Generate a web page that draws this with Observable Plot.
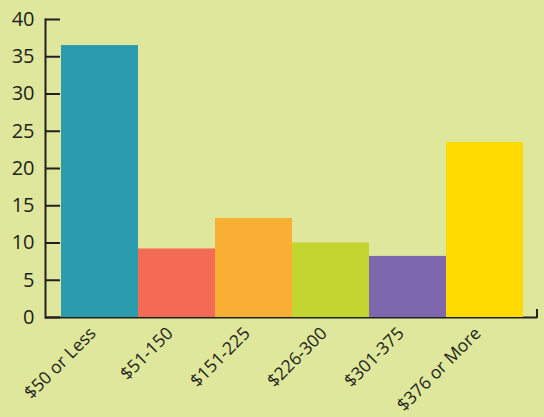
<!DOCTYPE html>
<html><head>
<meta charset="utf-8">
<script src="https://cdn.jsdelivr.net/npm/d3@7"></script>
<script src="https://cdn.jsdelivr.net/npm/@observablehq/plot@0.6"></script>
<style>
html,body{margin:0;padding:0;background:#dee79b;}
</style>
</head><body><div id="chart"></div>
<script>
const categories = ["$50 or Less","$51-150","$151-225","$226-300","$301-375","$376 or More"];
const values = [36.5, 9.2, 13.3, 10.0, 8.2, 23.5];
const colors = ["#2b9cae","#f36b54","#fbae34","#c2d62f","#7d68ae","#ffdb00"];
const yTicks = [0,5,10,15,20,25,30,35,40];
const data = categories.map((c,i)=>({category:c, value:values[i]}));

const ink = "#231f20";
const chart = Plot.plot({
  width:544, height:417,
  marginTop:19, marginBottom:100, marginLeft:45, marginRight:7,
  style:{background:"#dee79b", fontFamily:"'Open Sans', sans-serif", fontSize:"20px", color:ink},
  x:{domain:categories, padding:0, insetLeft:15, insetRight:14, label:null},
  y:{domain:[0,40], label:null},
  color:{domain:categories, range:colors},
  marks:[
    Plot.ruleY([0],{stroke:ink, strokeWidth:2}),
    Plot.barY(data,{x:"category", y:"value", fill:"category"}),
    Plot.axisY({ticks:yTicks, tickSize:-15, tickPadding:26, label:null, strokeWidth:2}),
    Plot.axisX({tickSize:0, tickRotate:-45, tickPadding:13, dx:-7, fontSize:17.5, label:null}),
    Plot.frame({anchor:"left", stroke:ink, strokeWidth:2}),
    (index, scales, values, dim) => {
      const x = dim.width - dim.marginRight;
      const y0 = scales.y(0);
      const l = d3.create("svg:line")
        .attr("x1", x).attr("x2", x)
        .attr("y1", y0 + 1).attr("y2", y0 - 8)
        .attr("stroke", ink).attr("stroke-width", 2);
      return l.node();
    }
  ]
});
document.getElementById("chart").appendChild(chart);
</script>
</body></html>
